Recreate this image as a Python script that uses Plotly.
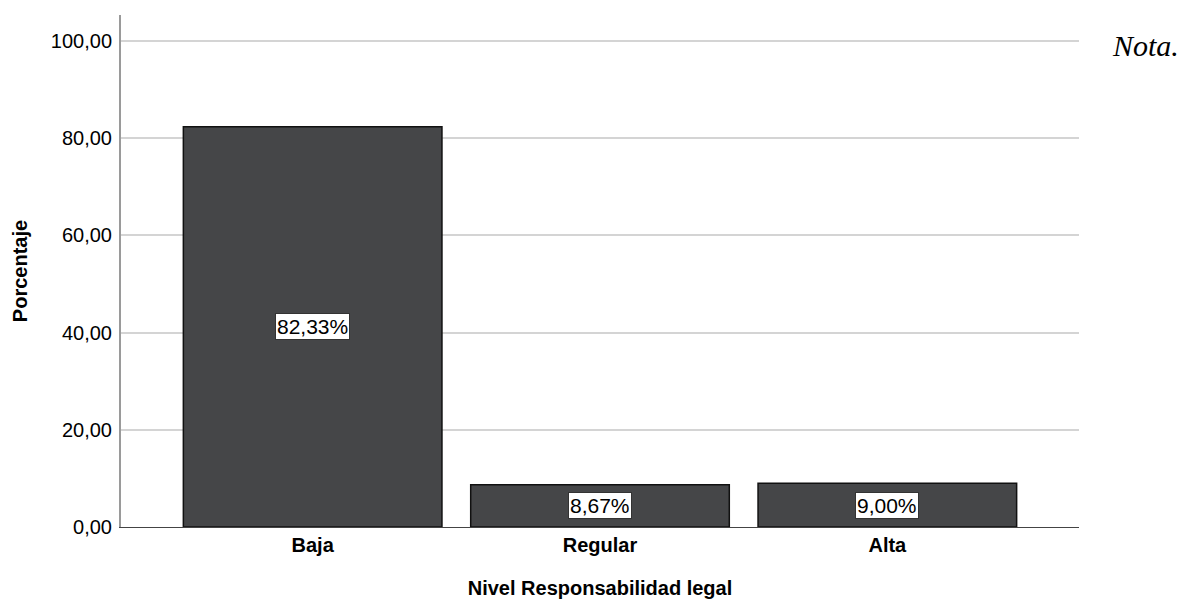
import plotly.graph_objects as go

categorias = ["Baja", "Regular", "Alta"]
porcentajes = [82.33, 8.67, 9.00]
ticks_y = [0, 20, 40, 60, 80, 100]
etiquetas_y = ["0,00", "20,00", "40,00", "60,00", "80,00", "100,00"]

fuente = "Liberation Sans, Arial, sans-serif"

fig = go.Figure(
    go.Bar(
        x=categorias,
        y=porcentajes,
        width=0.9,
        marker=dict(color="#454648", line=dict(color="#111111", width=1.5)),
        hoverinfo="skip",
    )
)

# Value labels in white boxes at the middle of each bar
for cat, val in zip(categorias, porcentajes):
    fig.add_annotation(
        x=cat, y=val / 2, text=f"{val:.2f}%".replace(".", ","),
        showarrow=False, bgcolor="white", bordercolor="#333333", borderwidth=1,
        borderpad=1, font=dict(family=fuente, size=21, color="black"),
    )

fig.add_annotation(
    xref="paper", yref="paper", x=1.032, y=0.94, xanchor="left", yanchor="middle",
    text="<i>Nota.</i>", showarrow=False,
    font=dict(family="Liberation Serif, Times New Roman, serif", size=30, color="black"),
)

fig.update_layout(
    width=1185, height=599,
    margin=dict(l=121, r=106, t=15, b=72, autoexpand=False),
    plot_bgcolor="white", paper_bgcolor="white",
    separators=",.",
    bargap=0.1,
    showlegend=False,
    xaxis=dict(
        range=[-0.667, 2.667], automargin=False,
        showline=True, linecolor="#444444", linewidth=1,
        showgrid=False, ticks="",
        tickfont=dict(family=fuente, size=20, color="black", weight="bold"),
        title=dict(text="Nivel Responsabilidad legal", standoff=26,
                   font=dict(family=fuente, size=20, color="black", weight="bold")),
    ),
    yaxis=dict(
        range=[0, 105.3], automargin=False,
        tickvals=ticks_y, ticktext=etiquetas_y,
        showline=True, linecolor="#9a9a9a", linewidth=2,
        showgrid=True, gridcolor="#d4d4d4", gridwidth=1.5,
        zeroline=False, ticks="", ticklabelstandoff=3,
        tickfont=dict(family=fuente, size=20, color="black"),
        title=dict(text="Porcentaje", standoff=18,
                   font=dict(family=fuente, size=20, color="black", weight="bold")),
    ),
)

fig.write_html("out.html")
